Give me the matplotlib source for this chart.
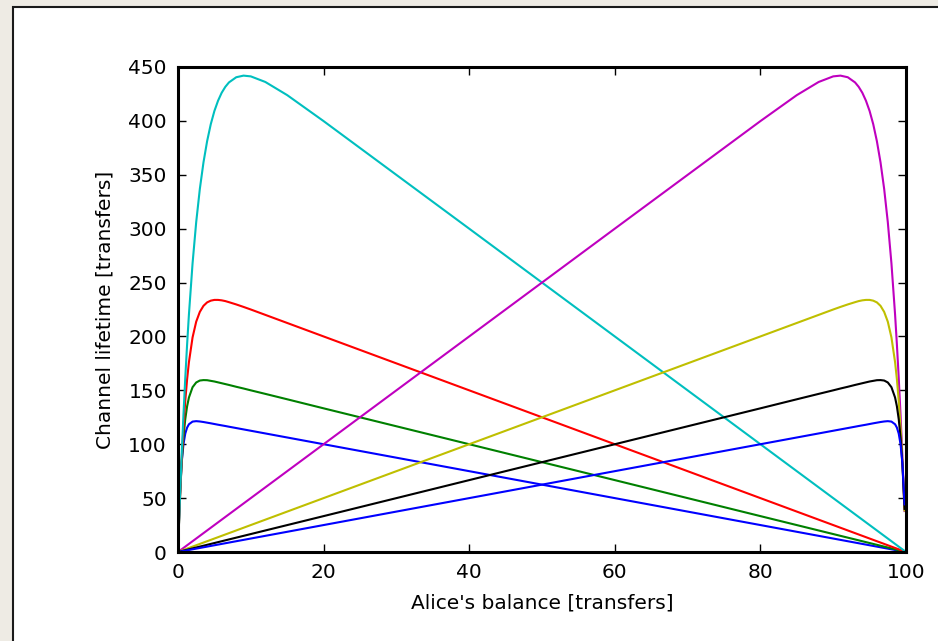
import matplotlib
matplotlib.use("Agg")
from matplotlib import pyplot as plt
from matplotlib.patches import Rectangle

# balance grid for the curves that rise near 0
x_left = [0, 0.2, 0.5, 0.75, 1, 1.25, 1.5, 2, 2.5, 3, 3.5, 4, 4.5, 5, 5.5,
          6, 6.5, 7, 8, 9, 10, 12, 15, 20, 40, 60, 80, 100]
blue_left = [0, 44.2, 82.7, 100.0, 109.9, 115.4, 118.5, 121.0, 121.4, 121.1,
             120.6, 120.0, 119.4, 118.75, 118.1, 117.5, 116.9, 116.25, 115.0,
             113.75, 112.5, 110.0, 106.25, 100.0, 75.0, 50.0, 25.0, 0]
green_left = [0, 40.0, 82.5, 106.5, 123.3, 135.1, 143.3, 152.9, 157.3, 159.1,
              159.5, 159.4, 158.8, 158.2, 157.4, 156.6, 155.8, 155.0, 153.3,
              151.7, 150.0, 146.7, 141.7, 133.3, 100.0, 66.7, 33.3, 0]
red_left = [0, 38.5, 85.1, 115.7, 140.4, 160.2, 176.1, 199.1, 213.7, 222.8,
            228.4, 231.6, 233.2, 233.9, 233.9, 233.5, 232.8, 231.8, 229.7,
            227.4, 225.0, 220.0, 212.5, 200.0, 150.0, 100.0, 50.0, 0]
cyan_left = [0, 38.0, 89.3, 127.4, 161.7, 192.5, 220.3, 267.8, 306.1, 336.9,
             361.5, 381.2, 396.9, 409.2, 418.7, 426.1, 431.6, 435.7, 440.5,
             442.0, 441.3, 436.1, 423.9, 399.8, 300.0, 200.0, 100.0, 0]

# balance grid for the curves that rise near 100
x_right = [0, 20, 40, 60, 80, 85, 88, 90, 91, 92, 93, 93.5, 94, 94.5, 95,
           95.5, 96, 96.5, 97, 97.5, 98, 98.5, 98.75, 99, 99.25, 99.5, 99.8]
magenta_right = [0, 100.0, 200.0, 300.0, 399.8, 423.9, 436.1, 441.3, 442.0,
                 440.5, 435.7, 431.6, 426.1, 418.7, 409.2, 396.9, 381.2,
                 361.5, 336.9, 306.1, 267.8, 220.3, 192.5, 161.7, 127.4,
                 89.3, 38.0]
yellow_right = [0, 50.0, 100.0, 150.0, 200.0, 212.5, 220.0, 225.0, 227.4,
                229.7, 231.8, 232.8, 233.5, 233.9, 233.9, 233.2, 231.6, 228.4,
                222.8, 213.7, 199.1, 176.1, 160.2, 140.4, 115.7, 85.1, 38.5]
black_right = [0, 33.3, 66.7, 100.0, 133.3, 141.7, 146.7, 150.0, 151.7,
               153.3, 155.0, 155.8, 156.6, 157.4, 158.2, 158.8, 159.4, 159.5,
               159.1, 157.3, 152.9, 143.3, 135.1, 123.3, 106.5, 82.5, 40.0]
blue_right = [0, 25.0, 50.0, 75.0, 100.0, 106.25, 110.0, 112.5, 113.75,
              115.0, 116.25, 116.9, 117.5, 118.1, 118.75, 119.4, 120.0,
              120.6, 121.1, 121.4, 121.0, 118.5, 115.4, 109.9, 100.0, 82.7,
              44.2]

plt.rcParams["font.family"] = "DejaVu Sans"
plt.rcParams["font.size"] = 14.5

fig = plt.figure(figsize=(9.38, 6.41), dpi=100, facecolor="#eeebe4")
# white panel with a dark frame, cut off at the right and bottom edges
panel = Rectangle((12.5 / 938, -0.1), 1.2, 1.1 - 7.5 / 641,
                  transform=fig.transFigure, facecolor="white",
                  edgecolor="#1a1a1a", linewidth=1.5, zorder=-1)
fig.patches.append(panel)

ax = fig.add_axes([178 / 938, 89 / 641, 728 / 938, 485 / 641])
lw = 1.5
ax.plot(x_left, blue_left, color="#0000ff", lw=lw)
ax.plot(x_left, green_left, color="#008000", lw=lw)
ax.plot(x_left, red_left, color="#ff0000", lw=lw)
ax.plot(x_left, cyan_left, color="#00bfbf", lw=lw)
ax.plot(x_right, magenta_right, color="#bf00bf", lw=lw)
ax.plot(x_right, yellow_right, color="#bfbf00", lw=lw)
ax.plot(x_right, black_right, color="#000000", lw=lw)
ax.plot(x_right, blue_right, color="#0000ff", lw=lw)

ax.set_xlim(0, 100)
ax.set_ylim(0, 450)
ax.set_xticks([0, 20, 40, 60, 80, 100])
ax.set_yticks(range(0, 451, 50))
ax.tick_params(direction="in", length=6, width=1, top=True, right=True,
               labelsize=14.5)
ax.tick_params(axis="x", pad=8)
ax.tick_params(axis="y", pad=8)
for s in ax.spines.values():
    s.set_linewidth(2.2)

ax.set_xlabel("Alice's balance [transfers]", fontsize=14.5, labelpad=8)
ax.set_ylabel("Channel lifetime [transfers]", fontsize=14.5, labelpad=10)

fig.savefig("out.png", dpi=100, facecolor=fig.get_facecolor())
